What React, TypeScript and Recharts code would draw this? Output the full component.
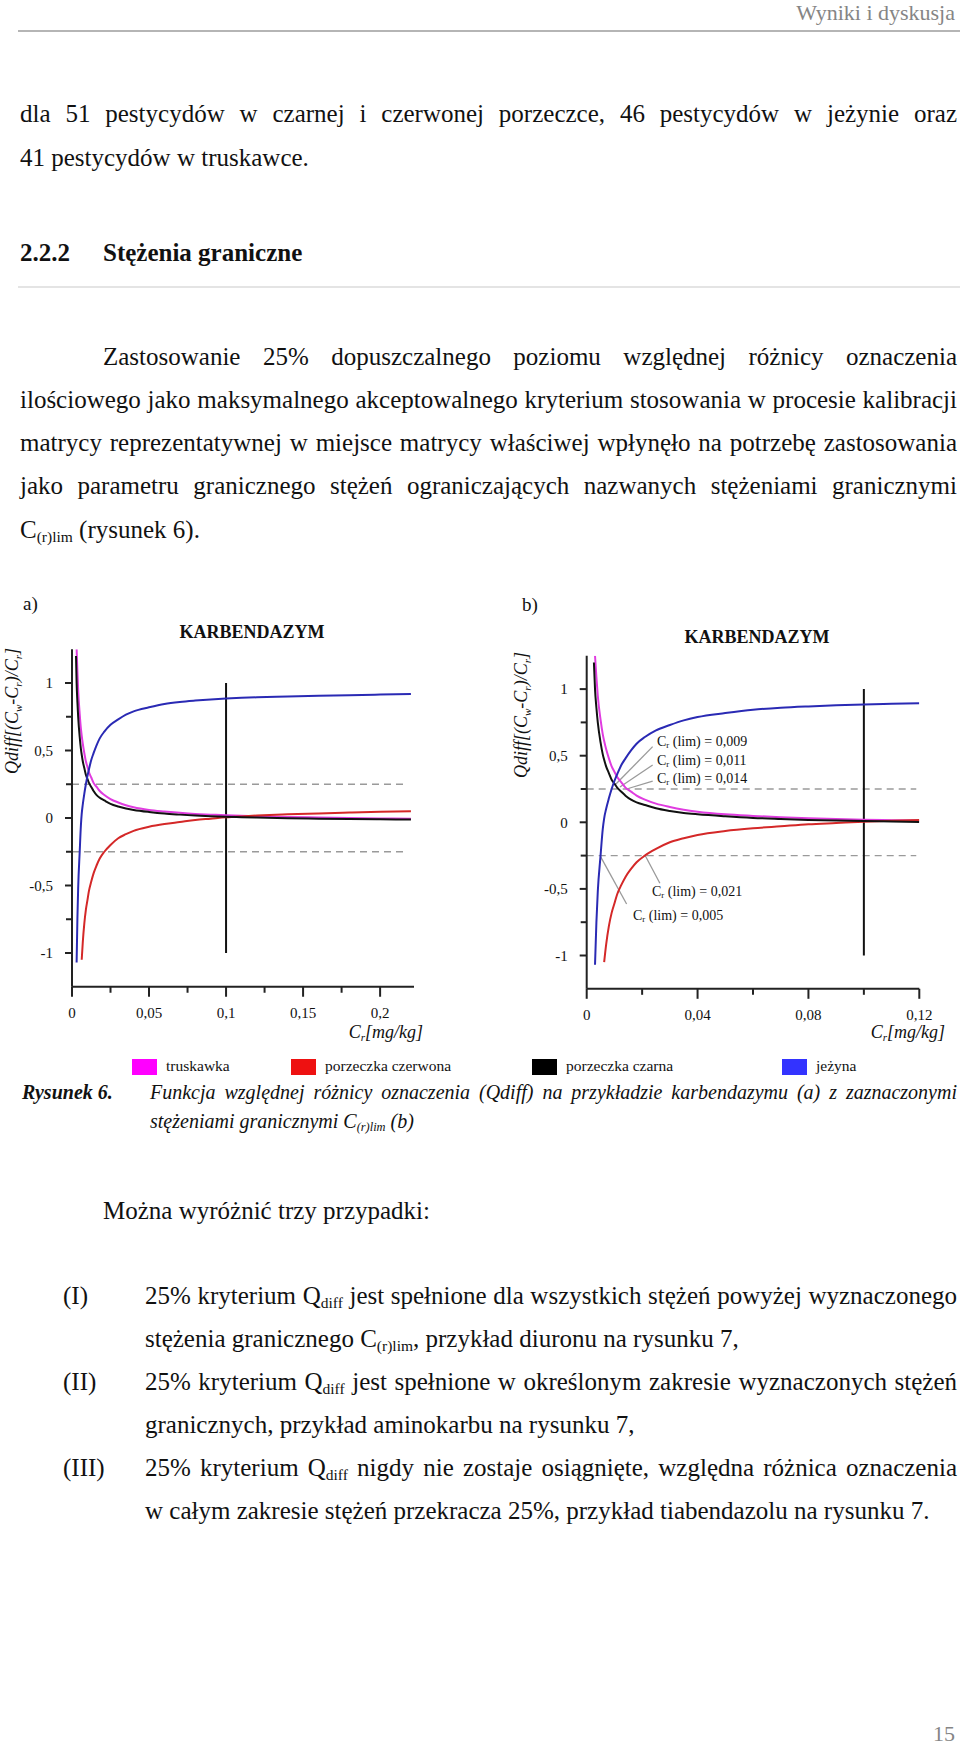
import React from "react";
import { LineChart, Line, XAxis, YAxis, ReferenceLine } from "recharts";

// concentration grid C_r [mg/kg]
const CONC = [
  0.0026, 0.003, 0.0035, 0.004, 0.005, 0.0058, 0.0063, 0.007, 0.008, 0.009, 0.01, 0.011, 0.0125, 0.014,
  0.016, 0.018, 0.021, 0.025, 0.03, 0.035, 0.04, 0.05, 0.06, 0.07, 0.08, 0.09, 0.1, 0.11, 0.12, 0.14,
  0.16, 0.18, 0.2, 0.22,
];

// Qdiff per matrix
const TRUSKAWKA = [
  null, 1.25, 1.09, 0.95, 0.77, 0.66, 0.61, 0.55, 0.48, 0.42, 0.38, 0.34, 0.3, 0.26,
  0.23, 0.2, 0.17, 0.14, 0.115, 0.095, 0.08, 0.06, 0.048, 0.038, 0.03, 0.025, 0.02, 0.016, 0.013, 0.008,
  0.004, 0.0, -0.003, -0.005,
];
const PORZ_CZERWONA = [
  null, null, null, null, null, null, -1.05, -0.92, -0.78, -0.68, -0.61, -0.54, -0.47, -0.41,
  -0.35, -0.3, -0.25, -0.2, -0.15, -0.12, -0.095, -0.065, -0.045, -0.03, -0.015, -0.005, 0.005, 0.012, 0.018, 0.027,
  0.034, 0.04, 0.046, 0.05,
];
const PORZ_CZARNA = [
  1.2, 1.0, 0.86, 0.75, 0.6, 0.51, 0.47, 0.42, 0.37, 0.32, 0.29, 0.26, 0.23, 0.2,
  0.17, 0.15, 0.13, 0.105, 0.085, 0.07, 0.06, 0.045, 0.033, 0.025, 0.018, 0.013, 0.009, 0.006, 0.003, -0.002,
  -0.005, -0.008, -0.01, -0.012,
];
const JEZYNA = [
  null, -1.07, -0.75, -0.52, -0.25, -0.05, 0.03, 0.1, 0.18, 0.25, 0.31, 0.36, 0.43, 0.48,
  0.54, 0.59, 0.64, 0.69, 0.73, 0.765, 0.79, 0.82, 0.845, 0.86, 0.87, 0.878, 0.885, 0.89, 0.894, 0.9,
  0.905, 0.91, 0.914, 0.918,
];

const Y_TICKS = [-1, -0.75, -0.5, -0.25, 0, 0.25, 0.5, 0.75, 1];
const Y_LABELED = [-1, -0.5, 0, 0.5, 1];
const XA_TICKS = [0, 0.025, 0.05, 0.075, 0.1, 0.125, 0.15, 0.175, 0.2];
const XA_LABELED = [0, 0.05, 0.1, 0.15, 0.2];
const XB_TICKS = [0, 0.02, 0.04, 0.06, 0.08, 0.1, 0.12];
const XB_LABELED = [0, 0.04, 0.08, 0.12];

const CRITERION = 0.25; // 25% Qdiff
const CAL_CONC = 0.1;
const LIM_UPPER = ["0,009", "0,011", "0,014"];
const LIM_LOWER = ["0,021", "0,005"];

const SERIES = [
  { key: "truskawka", values: TRUSKAWKA, stroke: "#e03ce0", swatch: "#ff00ff" },
  { key: "porzeczka czerwona", values: PORZ_CZERWONA, stroke: "#d42828", swatch: "#ee1111" },
  { key: "porzeczka czarna", values: PORZ_CZARNA, stroke: "#111111", swatch: "#000000" },
  { key: "jeżyna", values: JEZYNA, stroke: "#2a2ab4", swatch: "#3333ff" },
];

const rows = CONC.map((c, i) => {
  const r: any = { c };
  SERIES.forEach((s) => (r[s.key] = s.values[i]));
  return r;
});

const FONT = '"Liberation Serif", "Times New Roman", serif';
const fmt = (v: number) => String(v).replace(".", ",");

function YTick(props: any) {
  const { x, y, payload } = props;
  const major = Y_LABELED.includes(payload.value);
  return (
    <g>
      <line x1={x - (major ? 7 : 6)} x2={x} y1={y} y2={y} stroke="#222" strokeWidth={2} />
      {major && (
        <text x={x - 19} y={y} dy="0.35em" textAnchor="end" fontSize={15} fontFamily={FONT} fill="#111">
          {fmt(payload.value)}
        </text>
      )}
    </g>
  );
}

function XTick(props: any) {
  const { x, y, payload, labeled } = props;
  const major = labeled.includes(payload.value);
  return (
    <g>
      <line x1={x} x2={x} y1={y} y2={y + (major ? 10 : 6)} stroke="#222" strokeWidth={2} />
      {major && (
        <text x={x} y={y + 26} dy="0.35em" textAnchor="middle" fontSize={15} fontFamily={FONT} fill="#111">
          {fmt(payload.value)}
        </text>
      )}
    </g>
  );
}

function Sub({ children }: any) {
  return <span style={{ fontSize: "0.62em", verticalAlign: "-0.28em" }}>{children}</span>;
}

function T({ x, y, w, size = 25, justify = false, align = "left", style, children }: any) {
  return (
    <div
      style={{
        position: "absolute",
        left: x,
        top: y - size * 0.56,
        width: w,
        fontSize: size,
        lineHeight: 1,
        fontFamily: FONT,
        color: "#111",
        whiteSpace: "nowrap",
        textAlign: justify ? "justify" : align,
        textAlignLast: justify ? "justify" : align,
        ...style,
      }}
    >
      {children}
    </div>
  );
}

function QChart({ data, xMax, xTicks, xLabeled, dashEnd, width, margin, leaders }: any) {
  return (
    <LineChart width={width} height={450} data={data} margin={margin}>
      <XAxis
        type="number"
        dataKey="c"
        domain={[0, xMax]}
        ticks={xTicks}
        interval={0}
        allowDataOverflow
        height={30}
        tickSize={0}
        tickMargin={0}
        tickLine={false}
        axisLine={{ stroke: "#222", strokeWidth: 2 }}
        tick={(p: any) => <XTick {...p} labeled={xLabeled} />}
      />
      <YAxis
        type="number"
        domain={[-1.25, 1.25]}
        ticks={Y_TICKS}
        interval={0}
        allowDataOverflow
        width={30}
        tickSize={0}
        tickMargin={0}
        tickLine={false}
        axisLine={{ stroke: "#222", strokeWidth: 2 }}
        tick={(p: any) => <YTick {...p} />}
      />
      <ReferenceLine
        segment={[{ x: 0, y: CRITERION }, { x: dashEnd, y: CRITERION }]}
        stroke="#9a9a9a"
        strokeWidth={1.3}
        strokeDasharray="7 5"
      />
      <ReferenceLine
        segment={[{ x: 0, y: -CRITERION }, { x: dashEnd, y: -CRITERION }]}
        stroke="#9a9a9a"
        strokeWidth={1.3}
        strokeDasharray="7 5"
      />
      <ReferenceLine
        segment={[{ x: CAL_CONC, y: -1 }, { x: CAL_CONC, y: 1 }]}
        stroke="#111"
        strokeWidth={2}
      />
      {leaders &&
        leaders.map((seg: any, i: number) => (
          <ReferenceLine key={i} segment={seg} stroke="#9a9a9a" strokeWidth={1.3} />
        ))}
      {SERIES.map((s) => (
        <Line
          key={s.key}
          type="monotone"
          dataKey={s.key}
          stroke={s.stroke}
          strokeWidth={2}
          dot={false}
          isAnimationActive={false}
        />
      ))}
    </LineChart>
  );
}

// leader lines for the C_r(lim) labels in panel b (data coordinates)
const LEADERS_B = [
  [{ x: 0.0102, y: 0.28 }, { x: 0.0238, y: 0.568 }],
  [{ x: 0.012, y: 0.265 }, { x: 0.0238, y: 0.43 }],
  [{ x: 0.0144, y: 0.25 }, { x: 0.0238, y: 0.31 }],
  [{ x: 0.021, y: -0.245 }, { x: 0.0264, y: -0.458 }],
  [{ x: 0.005, y: -0.258 }, { x: 0.0144, y: -0.613 }],
];

function YTitle({ cx, cy }: any) {
  return (
    <div
      style={{
        position: "absolute",
        left: cx,
        top: cy,
        transform: "translate(-50%, -50%) rotate(-90deg)",
        fontFamily: FONT,
        fontStyle: "italic",
        fontSize: 18,
        whiteSpace: "nowrap",
        color: "#111",
      }}
    >
      Qdiff[(C<Sub>w</Sub>-C<Sub>r</Sub>)/C<Sub>r</Sub>]
    </div>
  );
}

export default function App() {
  const dataB = rows.filter((r) => r.c <= 0.12);
  const legendX = [132, 291, 532, 782];
  return (
    <div
      style={{
        position: "absolute",
        left: 0,
        top: 0,
        width: 960,
        height: 1745,
        background: "#fff",
        overflow: "hidden",
        fontFamily: FONT,
      }}
    >
      <T x={600} y={14} w={355} size={22} align="right" style={{ color: "#858585" }}>
        Wyniki i dyskusja
      </T>
      <div style={{ position: "absolute", left: 18, top: 30, width: 942, height: 2, background: "#b5b5b5" }} />

      <T x={20} y={115} w={937} justify>
        dla 51 pestycydów w czarnej i czerwonej porzeczce, 46 pestycydów w jeżynie oraz
      </T>
      <T x={20} y={159}>41 pestycydów w truskawce.</T>
      <T x={20} y={254} style={{ fontWeight: 700 }}>2.2.2</T>
      <T x={103} y={254} style={{ fontWeight: 700 }}>Stężenia graniczne</T>
      <div style={{ position: "absolute", left: 18, top: 286, width: 942, height: 2, background: "#e4e4e4" }} />

      <T x={103} y={358} w={854} justify>
        Zastosowanie 25% dopuszczalnego poziomu względnej różnicy oznaczenia
      </T>
      <T x={20} y={401} w={937} justify>
        ilościowego jako maksymalnego akceptowalnego kryterium stosowania w procesie kalibracji
      </T>
      <T x={20} y={444} w={937} justify>
        matrycy reprezentatywnej w miejsce matrycy właściwej wpłynęło na potrzebę zastosowania
      </T>
      <T x={20} y={487} w={937} justify>
        jako parametru granicznego stężeń ograniczających nazwanych stężeniami granicznymi
      </T>
      <T x={20} y={531}>
        C<Sub>(r)lim</Sub> (rysunek 6).
      </T>

      {/* panel a */}
      <T x={23} y={605} size={19}>a)</T>
      <T x={152} y={633} w={200} size={18} align="center" style={{ fontWeight: 700 }}>
        KARBENDAZYM
      </T>
      <YTitle cx={13} cy={711} />
      <div style={{ position: "absolute", left: 0, top: 600 }}>
        <QChart
          data={rows}
          xMax={0.222}
          xTicks={XA_TICKS}
          xLabeled={XA_LABELED}
          dashEnd={0.2175}
          width={440}
          margin={{ top: 49.25, right: 26, bottom: 33.25, left: 42 }}
        />
      </div>
      <T x={323} y={1033} w={100} size={18} align="right" style={{ fontStyle: "italic" }}>
        C<Sub>r</Sub>[mg/kg]
      </T>

      {/* panel b */}
      <T x={522} y={606} size={19}>b)</T>
      <T x={657} y={638} w={200} size={18} align="center" style={{ fontWeight: 700 }}>
        KARBENDAZYM
      </T>
      <YTitle cx={522} cy={715} />
      <div style={{ position: "absolute", left: 480, top: 600 }}>
        <QChart
          data={dataB}
          xMax={0.12}
          xTicks={XB_TICKS}
          xLabeled={XB_LABELED}
          dashEnd={0.1189}
          width={480}
          margin={{ top: 55.8, right: 40.7, bottom: 31.2, left: 76.7 }}
          leaders={LEADERS_B}
        />
      </div>
      <T x={845} y={1033} w={100} size={18} align="right" style={{ fontStyle: "italic" }}>
        C<Sub>r</Sub>[mg/kg]
      </T>
      {LIM_UPPER.map((v, i) => (
        <T key={v} x={657} y={[743, 762, 780][i]} size={14}>
          C<Sub>r</Sub> (lim) = {v}
        </T>
      ))}
      <T x={652} y={893} size={14}>
        C<Sub>r</Sub> (lim) = {LIM_LOWER[0]}
      </T>
      <T x={633} y={917} size={14}>
        C<Sub>r</Sub> (lim) = {LIM_LOWER[1]}
      </T>

      {/* legend */}
      {SERIES.map((s, i) => (
        <React.Fragment key={s.key}>
          <div
            style={{
              position: "absolute",
              left: legendX[i],
              top: 1059,
              width: 25,
              height: 16,
              background: s.swatch,
            }}
          />
          <T x={legendX[i] + 34} y={1067} size={15.5}>
            {s.key}
          </T>
        </React.Fragment>
      ))}

      {/* caption */}
      <T x={22} y={1093} size={20} style={{ fontWeight: 700, fontStyle: "italic" }}>
        Rysunek 6.
      </T>
      <T x={150} y={1093} w={807} size={20} justify style={{ fontStyle: "italic" }}>
        Funkcja względnej różnicy oznaczenia (Qdiff) na przykładzie karbendazymu (a) z zaznaczonymi
      </T>
      <T x={150} y={1122} size={20} style={{ fontStyle: "italic" }}>
        stężeniami granicznymi C<Sub>(r)lim</Sub> (b)
      </T>

      <T x={103} y={1212}>Można wyróżnić trzy przypadki:</T>

      <T x={63} y={1297}>(I)</T>
      <T x={145} y={1297} w={812} justify>
        25% kryterium Q<Sub>diff</Sub> jest spełnione dla wszystkich stężeń powyżej wyznaczonego
      </T>
      <T x={145} y={1340}>
        stężenia granicznego C<Sub>(r)lim</Sub>, przykład diuronu na rysunku 7,
      </T>
      <T x={63} y={1383}>(II)</T>
      <T x={145} y={1383} w={812} justify>
        25% kryterium Q<Sub>diff</Sub> jest spełnione w określonym zakresie wyznaczonych stężeń
      </T>
      <T x={145} y={1426}>granicznych, przykład aminokarbu na rysunku 7,</T>
      <T x={63} y={1469}>(III)</T>
      <T x={145} y={1469} w={812} justify>
        25% kryterium Q<Sub>diff</Sub> nigdy nie zostaje osiągnięte, względna różnica oznaczenia
      </T>
      <T x={145} y={1512}>
        w całym zakresie stężeń przekracza 25%, przykład tiabendazolu na rysunku 7.
      </T>

      <T x={855} y={1735} w={100} size={22} align="right" style={{ color: "#858585" }}>
        15
      </T>
    </div>
  );
}
